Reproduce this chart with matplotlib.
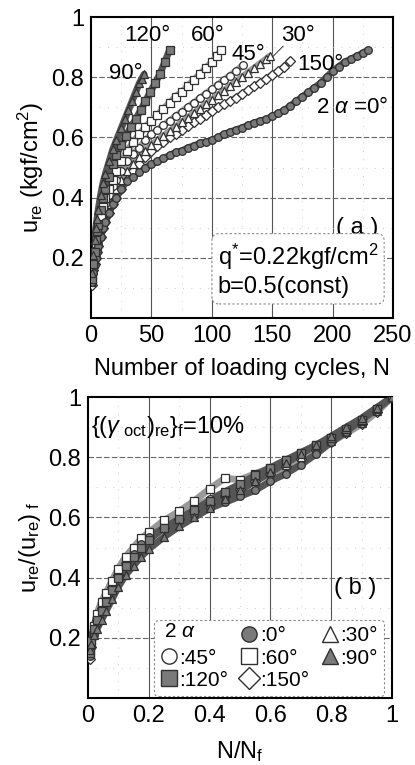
import numpy as np
import matplotlib
matplotlib.use("Agg")
import matplotlib.pyplot as plt
from matplotlib.lines import Line2D

plt.rcParams['font.family'] = ['Liberation Sans', 'DejaVu Sans']
plt.rcParams['mathtext.fontset'] = 'custom'
plt.rcParams['mathtext.rm'] = 'Liberation Sans'
plt.rcParams['mathtext.it'] = 'Liberation Sans:italic'

# ---- (a) excess pore pressure vs number of cycles, one series per 2*alpha ----
n_000 = [1, 2, 3, 4, 5, 6, 8, 10, 12, 15, 18, 21, 25, 30, 35, 40, 45, 50, 55, 60,
         65, 70, 75, 80, 85, 90, 95, 100, 105, 110, 115, 120, 125, 130, 135, 140, 145, 150, 155, 160,
         165, 170, 175, 180, 185, 190, 195, 200, 205, 210, 215, 220, 225, 229]
u_000 = [0.12, 0.15, 0.175, 0.20, 0.22, 0.24, 0.27, 0.30, 0.32, 0.35, 0.38, 0.40, 0.43, 0.455, 0.47, 0.485, 0.50, 0.51, 0.52, 0.53,
         0.54, 0.55, 0.555, 0.565, 0.572, 0.58, 0.585, 0.59, 0.60, 0.61, 0.618, 0.625, 0.632, 0.64, 0.648, 0.655, 0.66, 0.67, 0.68, 0.69,
         0.705, 0.72, 0.735, 0.75, 0.765, 0.78, 0.80, 0.82, 0.835, 0.85, 0.86, 0.87, 0.88, 0.89]

n_030 = [1, 2, 3, 4, 5, 6, 8, 10, 12, 15, 18, 21, 25, 30, 35, 40, 45, 50, 55, 60,
         65, 70, 75, 80, 85, 90, 95, 100, 105, 110, 115, 120, 125, 130, 135, 140, 145, 148]
u_030 = [0.12, 0.16, 0.19, 0.22, 0.24, 0.26, 0.30, 0.32, 0.35, 0.38, 0.41, 0.43, 0.46, 0.49, 0.51, 0.535, 0.555, 0.575, 0.59, 0.605,
         0.62, 0.635, 0.65, 0.665, 0.68, 0.695, 0.71, 0.725, 0.74, 0.755, 0.77, 0.785, 0.80, 0.815, 0.83, 0.845, 0.86, 0.87]

n_045 = [1, 2, 3, 4, 5, 6, 8, 10, 12, 15, 18, 21, 25, 30, 35, 40, 45, 50, 55, 60,
         65, 70, 75, 80, 85, 90, 95, 100, 105, 110, 115, 120, 126]
u_045 = [0.12, 0.16, 0.20, 0.23, 0.26, 0.28, 0.32, 0.35, 0.38, 0.41, 0.44, 0.46, 0.49, 0.52, 0.545, 0.565, 0.59, 0.61, 0.625, 0.64,
         0.655, 0.67, 0.685, 0.70, 0.715, 0.73, 0.745, 0.76, 0.775, 0.79, 0.805, 0.82, 0.84]

n_060 = [1, 2, 3, 4, 5, 6, 8, 10, 12, 15, 18, 21, 25, 30, 35, 40, 45, 50, 55, 60,
         65, 70, 75, 80, 85, 90, 95, 100, 104, 108]
u_060 = [0.13, 0.18, 0.22, 0.25, 0.28, 0.30, 0.34, 0.37, 0.40, 0.43, 0.46, 0.49, 0.52, 0.555, 0.585, 0.61, 0.635, 0.655, 0.675, 0.695,
         0.715, 0.735, 0.75, 0.77, 0.79, 0.81, 0.83, 0.85, 0.87, 0.89]

n_090 = [1, 2, 3, 4, 5, 6, 8, 10, 12, 15, 18, 21, 25, 28, 31, 34, 37, 40, 42, 44]
u_090 = [0.15, 0.21, 0.26, 0.30, 0.33, 0.36, 0.41, 0.45, 0.48, 0.52, 0.56, 0.59, 0.63, 0.66, 0.69, 0.72, 0.75, 0.78, 0.795, 0.81]

n_120 = [1, 2, 3, 4, 5, 6, 8, 10, 12, 15, 18, 21, 25, 29, 33, 37, 41, 45, 49, 53, 57, 61, 65]
u_120 = [0.13, 0.18, 0.22, 0.26, 0.29, 0.31, 0.36, 0.40, 0.43, 0.47, 0.51, 0.54, 0.575, 0.605, 0.635, 0.66, 0.69, 0.72, 0.75, 0.78,
         0.81, 0.85, 0.89]

n_150 = [1, 2, 3, 4, 5, 6, 8, 10, 12, 15, 18, 21, 25, 30, 35, 40, 45, 50, 55, 60,
         65, 70, 75, 80, 85, 90, 95, 100, 105, 110, 115, 120, 125, 130, 135, 140, 145, 150, 155, 160, 165]
u_150 = [0.11, 0.16, 0.18, 0.20, 0.22, 0.24, 0.27, 0.30, 0.32, 0.35, 0.38, 0.40, 0.43, 0.46, 0.49, 0.51, 0.535, 0.555, 0.57, 0.585,
         0.60, 0.612, 0.625, 0.637, 0.65, 0.662, 0.675, 0.687, 0.70, 0.71, 0.72, 0.732, 0.745, 0.757, 0.77, 0.782, 0.795, 0.808, 0.82,
         0.835, 0.855]

# ---- (b) normalised pore pressure vs N/Nf (readings on one common grid) ----
r_grid = [0.005, 0.01, 0.02, 0.03, 0.045, 0.06, 0.08, 0.1, 0.125, 0.15, 0.175, 0.2, 0.25, 0.3,
          0.35, 0.4, 0.45, 0.5, 0.55, 0.6, 0.65, 0.7, 0.75, 0.8, 0.85, 0.9, 0.95, 1.0]
b_000 = [0.14, 0.17, 0.21, 0.25, 0.29, 0.32, 0.36, 0.40, 0.44, 0.48, 0.51, 0.535, 0.565, 0.59,
         0.61, 0.63, 0.65, 0.67, 0.69, 0.72, 0.745, 0.775, 0.81, 0.85, 0.885, 0.925, 0.96, 1.0]
b_030 = [0.15, 0.18, 0.23, 0.27, 0.31, 0.34, 0.38, 0.42, 0.46, 0.49, 0.515, 0.54, 0.575, 0.605,
         0.63, 0.655, 0.68, 0.70, 0.725, 0.75, 0.775, 0.80, 0.83, 0.855, 0.885, 0.915, 0.955, 1.0]
b_045 = [0.15, 0.19, 0.24, 0.28, 0.32, 0.35, 0.39, 0.43, 0.47, 0.50, 0.525, 0.545, 0.58, 0.61,
         0.635, 0.66, 0.685, 0.71, 0.735, 0.76, 0.785, 0.81, 0.835, 0.86, 0.885, 0.915, 0.955, 1.0]
b_060 = [0.15, 0.19, 0.24, 0.28, 0.32, 0.35, 0.39, 0.43, 0.47, 0.50, 0.53, 0.55, 0.59, 0.62,
         0.655, 0.695, 0.73, 0.725, 0.745, 0.765, 0.79, 0.815, 0.84, 0.865, 0.89, 0.92, 0.96, 1.0]
b_090 = [0.16, 0.18, 0.21, 0.23, 0.26, 0.29, 0.33, 0.37, 0.41, 0.44, 0.47, 0.495, 0.535, 0.57,
         0.60, 0.63, 0.66, 0.69, 0.72, 0.75, 0.78, 0.81, 0.84, 0.87, 0.90, 0.93, 0.965, 1.0]
b_120 = [0.15, 0.19, 0.23, 0.26, 0.29, 0.32, 0.36, 0.40, 0.44, 0.47, 0.50, 0.525, 0.565, 0.595,
         0.625, 0.655, 0.685, 0.71, 0.74, 0.765, 0.79, 0.815, 0.84, 0.865, 0.895, 0.925, 0.96, 1.0]
b_150 = [0.13, 0.17, 0.22, 0.26, 0.30, 0.33, 0.37, 0.41, 0.45, 0.48, 0.505, 0.53, 0.565, 0.595,
         0.62, 0.645, 0.67, 0.695, 0.72, 0.745, 0.77, 0.795, 0.825, 0.85, 0.88, 0.91, 0.95, 1.0]

top_data = {'0': (n_000, u_000), '30': (n_030, u_030), '45': (n_045, u_045), '60': (n_060, u_060),
            '90': (n_090, u_090), '120': (n_120, u_120), '150': (n_150, u_150)}
bot_data = {'0': b_000, '30': b_030, '45': b_045, '60': b_060,
            '90': b_090, '120': b_120, '150': b_150}

dark = '#303030'
fill = '#7a7a7a'
style = {
    '0':   dict(marker='o', mfc=fill, mec=dark),
    '30':  dict(marker='^', mfc='white', mec=dark),
    '45':  dict(marker='o', mfc='white', mec=dark),
    '60':  dict(marker='s', mfc='white', mec=dark),
    '90':  dict(marker='^', mfc=fill, mec=dark),
    '120': dict(marker='s', mfc=fill, mec=dark),
    '150': dict(marker='D', mfc='white', mec=dark),
}
# draw order: open ones first, filled on top as in the scan
order = ['150', '30', '45', '60', '0', '120', '90']

FS = 17


def band_color(a):
    return '#555555' if style[a]['mfc'] != 'white' else '#9a9a9a'


def style_axes(ax, xmajor, xminor, yminor):
    for s in ax.spines.values():
        s.set_linewidth(1.5)
    ax.tick_params(length=0, labelsize=FS, pad=5)
    for x in xmajor:
        ax.axvline(x, color='#555555', lw=0.8, zorder=0)
    for y in [0.2, 0.4, 0.6, 0.8]:
        ax.axhline(y, color='#666666', lw=0.8, ls=(0, (5, 2)), zorder=0)
    for x in xminor:
        ax.axvline(x, color='#bbbbbb', lw=0.6, ls=(0, (1, 9)), zorder=0)
    for y in yminor:
        ax.axhline(y, color='#bbbbbb', lw=0.6, ls=(0, (1, 9)), zorder=0)


fig = plt.figure(figsize=(4.15, 7.65), dpi=100)

# ---------------- panel (a) ----------------
ax1 = fig.add_axes([91 / 415, 1 - 318 / 765, 302 / 415, 301 / 765])
ax1.set_xlim(0, 250)
ax1.set_ylim(0, 1)
style_axes(ax1, [50, 100, 150, 200], [25, 75, 125, 175, 225], [0.1, 0.3, 0.5, 0.7, 0.9])
ax1.set_xticks([0, 50, 100, 150, 200, 250])
ax1.set_yticks([0.2, 0.4, 0.6, 0.8, 1.0])
ax1.set_yticklabels(['0.2', '0.4', '0.6', '0.8', '1'])

for a in order:
    n, u = top_data[a]
    ax1.plot(n, u, color=band_color(a), lw=5, solid_capstyle='round', zorder=2)
    ax1.plot(n, u, ls='none', ms=5.5, mew=0.9, zorder=3, **style[a])

ax1.set_xlabel('Number of loading cycles, N', fontsize=FS, labelpad=8)
ax1.set_ylabel(r'u$_{\mathrm{re}}$ (kgf/cm$^{2}$)', fontsize=FS, labelpad=4)

lab = dict(fontsize=16, ha='center', va='center')
ax1.text(47, 0.94, '120°', **lab)
ax1.text(97, 0.94, '60°', **lab)
ax1.text(29, 0.813, '90°', **lab)
ax1.text(130, 0.877, '45°', **lab)
ax1.text(171, 0.94, '30°', **lab)
ax1.text(190, 0.843, '150°', **lab)
ax1.text(216, 0.70, r'2 $\alpha$ =0°', **lab)
ax1.plot([159, 146], [0.903, 0.85], color='#333333', lw=0.7)

ax1.text(0.88, 0.30, '( a )', transform=ax1.transAxes, fontsize=FS, ha='center', va='center')
ax1.text(0.42, 0.16, 'q$^{*}$=0.22kgf/cm$^{2}$\nb=0.5(const)', transform=ax1.transAxes,
         fontsize=FS, ha='left', va='center', linespacing=1.25,
         bbox=dict(boxstyle='round,pad=0.25,rounding_size=0.3', fc='white', ec='#888888',
                   lw=0.8, ls=(0, (2, 2))))

# ---------------- panel (b) ----------------
ax2 = fig.add_axes([88 / 415, 1 - 698 / 765, 304 / 415, 301 / 765])
ax2.set_xlim(0, 1)
ax2.set_ylim(0, 1)
style_axes(ax2, [0.2, 0.4, 0.6, 0.8], [0.1, 0.3, 0.5, 0.7, 0.9], [0.1, 0.3, 0.5, 0.7, 0.9])
ax2.set_xticks([0, 0.2, 0.4, 0.6, 0.8, 1.0])
ax2.set_xticklabels(['0', '0.2', '0.4', '0.6', '0.8', '1'])
ax2.set_yticks([0.2, 0.4, 0.6, 0.8, 1.0])
ax2.set_yticklabels(['0.2', '0.4', '0.6', '0.8', '1'])

for a in order:
    ax2.plot(r_grid, bot_data[a], color=band_color(a), lw=5, solid_capstyle='round', zorder=2)
    ax2.plot(r_grid, bot_data[a], ls='none', ms=5.5, mew=0.9, zorder=3, **style[a])

ax2.set_xlabel(r'N/N$_{\mathrm{f}}$', fontsize=FS, labelpad=9)
ax2.set_ylabel(r'u$_{\mathrm{re}}$/(u$_{\mathrm{re}}$)$_{\ \mathrm{f}}$', fontsize=FS, labelpad=4)
ax2.text(0.01, 0.9, r'{($\gamma$$_{\ \mathrm{oct}}$)$_{\mathrm{re}}$}$_{\mathrm{f}}$=10%',
         transform=ax2.transAxes, fontsize=FS, ha='left', va='center')
ax2.text(0.88, 0.365, '( b )', transform=ax2.transAxes, fontsize=FS, ha='center', va='center')

blank = Line2D([], [], ls='none', marker='')
handles = [blank]
labels = ['']
for a in ['45', '120', '0', '60', '150', '30', '90']:
    handles.append(Line2D([], [], ls='none', ms=11, mew=1.0, **style[a]))
    labels.append(':' + a + '°')
leg = ax2.legend(handles, labels, ncol=3, loc='lower right', bbox_to_anchor=(0.98, 0.0),
                 fontsize=15, handlelength=0.8, handletextpad=0.1, columnspacing=0.6,
                 labelspacing=0.15, borderpad=0.3, borderaxespad=0.1, fancybox=True,
                 framealpha=1, edgecolor='#888888')
leg.get_frame().set_linestyle((0, (2, 2)))
leg.get_frame().set_linewidth(0.8)
# the "2 alpha" heading sits in the empty first legend slot
ax2.text(0.25, 0.22, r'2 $\alpha$', transform=ax2.transAxes, fontsize=15,
         ha='left', va='center', zorder=10)

fig.savefig('out.png', dpi=100)
